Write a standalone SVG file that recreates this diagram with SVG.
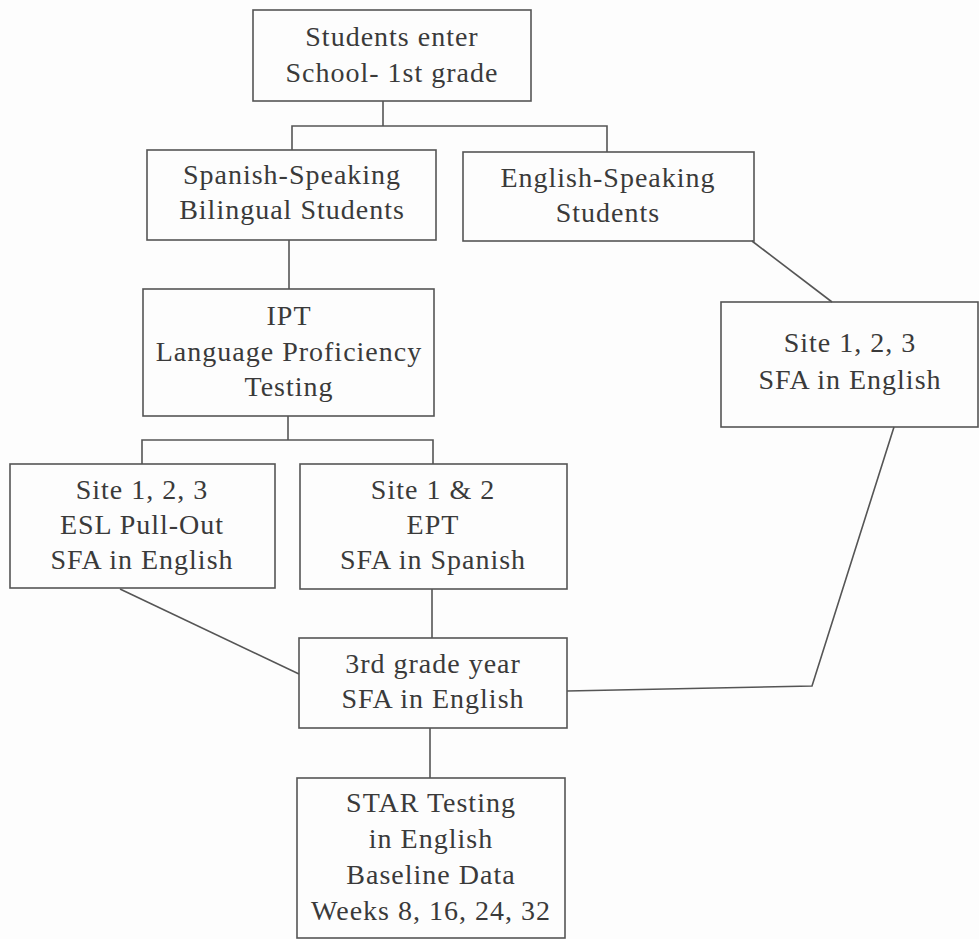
<svg xmlns="http://www.w3.org/2000/svg" width="979" height="939" viewBox="0 0 979 939">
<style>
rect{fill:none;stroke:#555;stroke-width:1.6}
.c{fill:none;stroke:#555;stroke-width:1.6}
text{font-family:"Liberation Serif","Times New Roman",serif;font-size:28px;fill:#3a3a3a;text-anchor:middle;letter-spacing:1px}
</style>
<rect x="0" y="0" width="979" height="939" style="fill:#fdfdfd;stroke:none"/>
<g id="connectors">
<polyline class="c" points="383,101 383,126"/>
<polyline class="c" points="292,150 292,126 607,126 607,152"/>
<polyline class="c" points="289,240 289,289"/>
<polyline class="c" points="288,416 288,440"/>
<polyline class="c" points="142,464 142,440 433,440 433,464"/>
<polyline class="c" points="752,241 832,302"/>
<polyline class="c" points="120,589 299,674"/>
<polyline class="c" points="432,589 432,638"/>
<polyline class="c" points="894,427 812,686 567,691"/>
<polyline class="c" points="430,728 430,778"/>
</g>
<g id="n1"><rect x="253" y="10" width="278" height="91"/><text x="392" y="46">Students enter</text><text x="392" y="82">School- 1st grade</text></g>
<g id="n2"><rect x="147" y="150" width="289" height="90"/><text x="292" y="184">Spanish-Speaking</text><text x="292" y="219">Bilingual Students</text></g>
<g id="n3"><rect x="463" y="152" width="291" height="89"/><text x="608" y="187">English-Speaking</text><text x="608" y="222">Students</text></g>
<g id="n4"><rect x="143" y="289" width="291" height="127"/><text x="289" y="325">IPT</text><text x="289" y="361">Language Proficiency</text><text x="289" y="396">Testing</text></g>
<g id="n5"><rect x="721" y="302" width="257" height="125"/><text x="850" y="352">Site 1, 2, 3</text><text x="850" y="389">SFA in English</text></g>
<g id="n6"><rect x="10" y="464" width="265" height="124"/><text x="142" y="499">Site 1, 2, 3</text><text x="142" y="534">ESL Pull-Out</text><text x="142" y="569">SFA in English</text></g>
<g id="n7"><rect x="300" y="464" width="267" height="125"/><text x="433" y="499">Site 1 &amp; 2</text><text x="433" y="534">EPT</text><text x="433" y="569">SFA in Spanish</text></g>
<g id="n8"><rect x="299" y="638" width="268" height="90"/><text x="433" y="673">3rd grade year</text><text x="433" y="708">SFA in English</text></g>
<g id="n9"><rect x="297" y="778" width="268" height="160"/><text x="431" y="812">STAR Testing</text><text x="431" y="848">in English</text><text x="431" y="884">Baseline Data</text><text x="431" y="920">Weeks 8, 16, 24, 32</text></g>
</svg>
